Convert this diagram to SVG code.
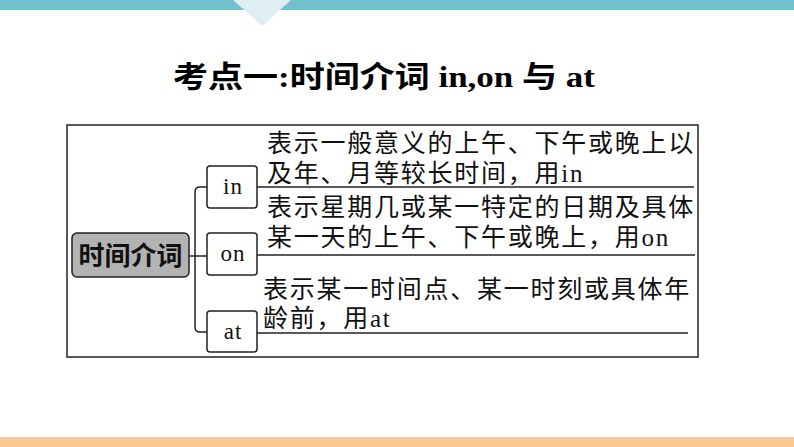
<svg xmlns="http://www.w3.org/2000/svg" width="794" height="447" viewBox="0 0 794 447">
<style>
.body{font-family:"Liberation Serif","Noto Sans CJK SC",serif;font-size:25px;fill:#111;letter-spacing:1.75px}
.box{fill:#fff;stroke:#222;stroke-width:1.5}
.lbl{font-family:"Liberation Serif","Noto Sans CJK SC",serif;font-size:23px;fill:#111;text-anchor:middle;letter-spacing:1px}
.ln{stroke:#222;stroke-width:1.5;fill:none}
</style>
<rect x="0" y="0" width="794" height="447" fill="#fff"/>
<rect x="0" y="0" width="794" height="10" fill="#72c0cc"/>
<polygon points="233,0 291,0 262,26" fill="#dfeef5"/>
<rect x="0" y="437" width="794" height="10" fill="#fdc893"/>
<text x="173" y="87" font-family="Liberation Serif,'Noto Sans CJK SC',serif" font-weight="bold" font-size="30" fill="#000" textLength="422" lengthAdjust="spacingAndGlyphs">考点一:时间介词 in,on 与 at</text>
<rect x="67" y="125" width="631" height="232" fill="none" stroke="#222" stroke-width="1.5"/>
<g id="connectors">
<path class="ln" d="M189,256 H207"/>
<path class="ln" d="M207,187 H200 Q195,187 195,192 V327 Q195,332 200,332 H207"/>
<path class="ln" d="M257,187 H694"/>
<path class="ln" d="M257,255 H695"/>
<path class="ln" d="M257,333 H688"/>
</g>
<g id="root">
<rect x="72" y="233" width="117" height="44" rx="5" fill="#b3b3b3" stroke="#222" stroke-width="1.5"/>
<text x="130.5" y="265" font-family="'Noto Sans CJK SC',sans-serif" font-weight="bold" font-size="26" fill="#111" text-anchor="middle">时间介词</text>
</g>
<g id="in">
<rect class="box" x="207" y="166" width="50" height="42" rx="3"/>
<text class="lbl" x="233" y="194">in</text>
</g>
<g id="on">
<rect class="box" x="207" y="233" width="50" height="42" rx="3"/>
<text class="lbl" x="233" y="261">on</text>
</g>
<g id="at">
<rect class="box" x="207" y="311" width="50" height="41" rx="3"/>
<text class="lbl" x="233" y="339">at</text>
</g>
<g id="desc-in">
<text class="body" x="267" y="152">表示一般意义的上午、下午或晚上以</text>
<text class="body" x="267" y="182">及年、月等较长时间，用in</text>
</g>
<g id="desc-on">
<text class="body" x="267" y="216">表示星期几或某一特定的日期及具体</text>
<text class="body" x="267" y="246">某一天的上午、下午或晚上，用on</text>
</g>
<g id="desc-at">
<text class="body" x="263" y="298">表示某一时间点、某一时刻或具体年</text>
<text class="body" x="263" y="327">龄前，用at</text>
</g>
</svg>
